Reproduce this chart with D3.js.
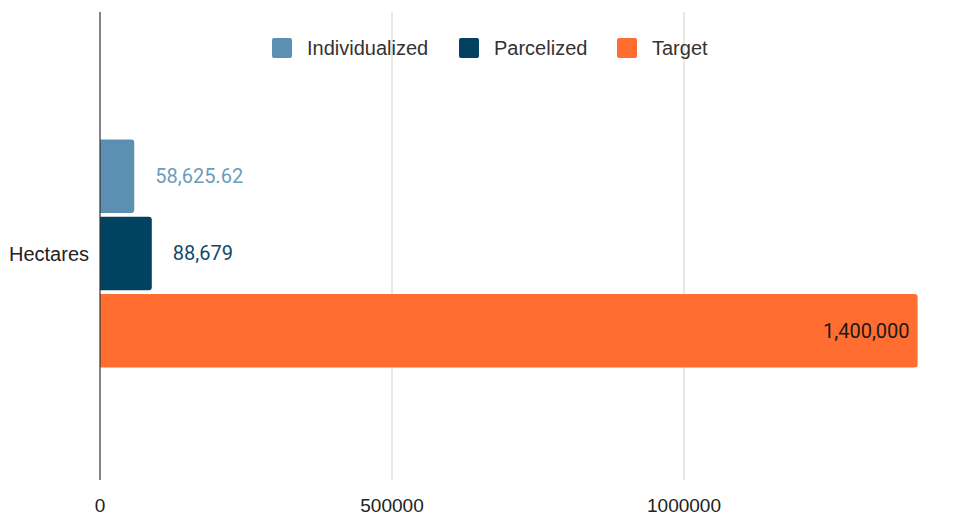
<!DOCTYPE html>
<html lang="en">
<head>
  <meta charset="UTF-8">
  <title>Hectares</title>
  <style>
    body { margin: 0; background: #fff; }
    text { font-family: "Liberation Sans", Arial, sans-serif; }
    .val { font-family: Roboto, "Noto Sans", sans-serif; }
  </style>
  <script src="https://d3js.org/d3.v7.min.js"></script>
</head>
<body>
  <div id="chart"></div>
  <script>
    // data
    const categories = ["Hectares"];
    const series = ["Individualized", "Parcelized", "Target"];
    const values = [58625.62, 88679, 1400000];
    const valueLabels = ["58,625.62", "88,679", "1,400,000"];
    const colors = ["#5b90b2", "#00425f", "#ff6d31"];
    const labelColors = ["#6b9dbb", "#0f4a66", "#1a1a1a"];
    const ticks = [0, 500000, 1000000];

    const W = 966, H = 520;
    const plotLeft = 100, plotTop = 12, plotBottom = 480;

    const svg = d3.select("#chart").append("svg")
      .attr("width", W).attr("height", H);

    const x = d3.scaleLinear().domain([0, 1000000]).range([plotLeft, 684]);

    const y0 = d3.scaleBand().domain(categories).range([plotTop + 2, 493]).paddingOuter(0.55).paddingInner(0);
    const y1 = d3.scaleBand().domain(series).range([0, y0.bandwidth()]).paddingInner(0.05);

    // gridlines
    svg.append("g").selectAll("line")
      .data(ticks.filter(t => t > 0))
      .join("line")
      .attr("x1", d => x(d)).attr("x2", d => x(d))
      .attr("y1", plotTop).attr("y2", plotBottom)
      .attr("stroke", "#d0d0d0").attr("stroke-width", 1);

    // tick labels
    svg.append("g").selectAll("text")
      .data(ticks)
      .join("text")
      .attr("x", d => x(d)).attr("y", 512)
      .attr("text-anchor", "middle")
      .attr("font-size", 19)
      .attr("fill", "#222")
      .text(d => d);

    // bars with rounded right end
    function barPath(x0, x1, yt, h, r) {
      r = Math.min(r, (x1 - x0) / 2);
      return `M${x0},${yt}H${x1 - r}Q${x1},${yt} ${x1},${yt + r}V${yt + h - r}Q${x1},${yt + h} ${x1 - r},${yt + h}H${x0}Z`;
    }

    const rows = series.map((s, i) => ({ s, v: values[i], label: valueLabels[i], c: colors[i], lc: labelColors[i] }));
    const g = svg.append("g").attr("transform", `translate(0,${y0(categories[0])})`);

    g.selectAll("path")
      .data(rows)
      .join("path")
      .attr("d", d => barPath(x(0), x(d.v), y1(d.s), y1.bandwidth(), 3))
      .attr("fill", d => d.c);

    g.selectAll("text.val")
      .data(rows)
      .join("text")
      .attr("class", "val")
      .attr("x", d => d.v > 500000 ? x(d.v) - 8 : x(d.v) + 21)
      .attr("y", d => y1(d.s) + y1.bandwidth() / 2 + 7)
      .attr("text-anchor", d => d.v > 500000 ? "end" : "start")
      .attr("font-size", 20)
      .attr("fill", d => d.lc)
      .text(d => d.label);

    // axis line
    svg.append("line")
      .attr("x1", x(0)).attr("x2", x(0))
      .attr("y1", plotTop).attr("y2", plotBottom)
      .attr("stroke", "#333").attr("stroke-width", 1.2);

    // category label
    svg.append("text")
      .attr("x", 89).attr("y", y0(categories[0]) + y0.bandwidth() / 2 + 7)
      .attr("text-anchor", "end")
      .attr("font-size", 20)
      .attr("fill", "#222")
      .text(categories[0]);

    // legend
    const legendX = [272, 459, 617];
    const legend = svg.append("g").selectAll("g")
      .data(rows)
      .join("g")
      .attr("transform", (d, i) => `translate(${legendX[i]},38)`);
    legend.append("rect")
      .attr("width", 20).attr("height", 20).attr("rx", 2)
      .attr("fill", d => d.c);
    legend.append("text")
      .attr("x", 35).attr("y", 17)
      .attr("font-size", 20)
      .attr("fill", "#333")
      .text(d => d.s);
  </script>
</body>
</html>
